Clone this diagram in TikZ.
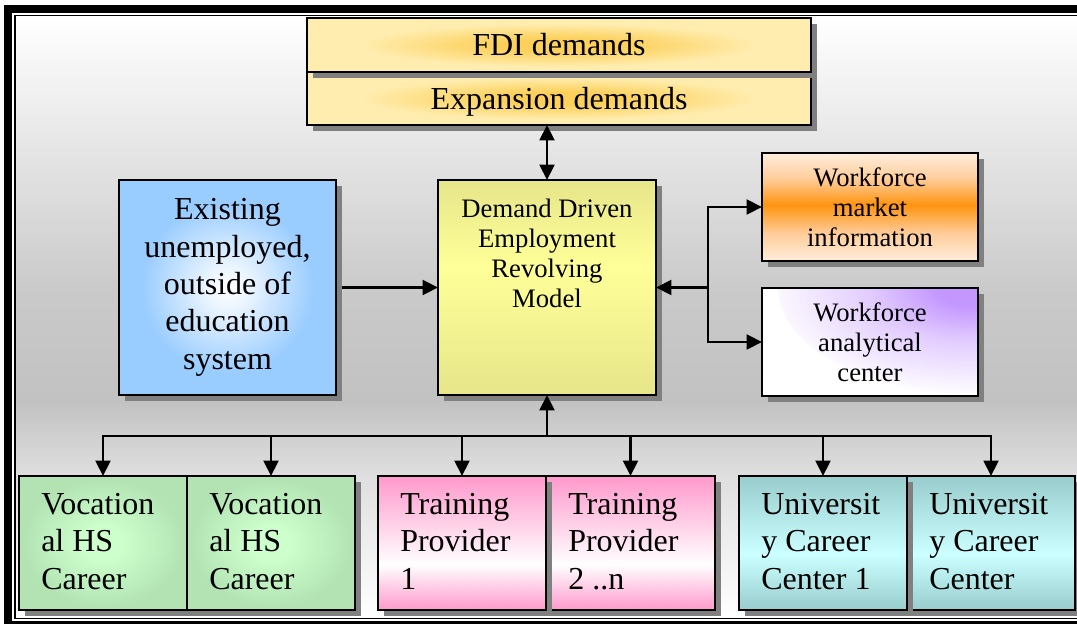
\documentclass[tikz,border=0pt]{standalone}
\usepackage{fontspec}
\setmainfont{Liberation Serif}
\usetikzlibrary{arrows.meta,shadows}
\definecolor{goldD}{HTML}{FCD05A}
\definecolor{goldL}{HTML}{FFEDB0}
\definecolor{blueE}{HTML}{99CCFF}
\definecolor{ddD}{HTML}{E6E68A}
\definecolor{ddL}{HTML}{FFFF99}
\definecolor{orD}{HTML}{FF9410}
\definecolor{orM}{HTML}{FFCC99}
\definecolor{orL}{HTML}{FFEEDD}
\definecolor{purC}{HTML}{C497FF}
\definecolor{grC}{HTML}{CCFFCC}
\definecolor{grE}{HTML}{B3E3B3}
\definecolor{pkD}{HTML}{FF99CC}
\definecolor{tlD}{HTML}{99CCCC}
\definecolor{tlL}{HTML}{CCFFFF}
\pgfdeclareverticalshading{bgsh}{100bp}{color(0bp)=(white); color(25bp)=(white); color(37bp)=(black!13); color(43bp)=(black!24); color(52bp)=(black!21); color(64bp)=(black!10); color(75bp)=(white); color(100bp)=(white)}
\pgfdeclareverticalshading{orsh}{100bp}{color(0bp)=(orL); color(25bp)=(orL); color(38bp)=(orM); color(51bp)=(orD); color(63bp)=(orM); color(75bp)=(orL); color(100bp)=(orL)}
\pgfdeclareverticalshading{ddsh}{100bp}{color(0bp)=(ddD); color(25bp)=(ddD); color(55bp)=(ddL); color(75bp)=(ddD); color(100bp)=(ddD)}
\pgfdeclareverticalshading{pksh}{100bp}{color(0bp)=(pkD); color(25bp)=(pkD); color(42bp)=(white); color(75bp)=(pkD); color(100bp)=(pkD)}
\pgfdeclareverticalshading{tlsh}{100bp}{color(0bp)=(tlD); color(25bp)=(tlD); color(46bp)=(tlL); color(75bp)=(tlD); color(100bp)=(tlD)}
\pgfdeclareradialshading{goldsh}{\pgfpointorigin}{color(0bp)=(goldD); color(6bp)=(goldD); color(20bp)=(goldL); color(100bp)=(goldL)}
\pgfdeclareradialshading{bluesh}{\pgfpointorigin}{color(0bp)=(white); color(5bp)=(white!80!blueE); color(20bp)=(blueE); color(100bp)=(blueE)}
\pgfdeclareradialshading{greensh}{\pgfpointorigin}{color(0bp)=(grC); color(6bp)=(grC); color(24bp)=(grE); color(100bp)=(grE)}
\pgfdeclareradialshading{purpsh}{\pgfpointorigin}{color(0bp)=(purC); color(4bp)=(purC); color(12bp)=(purC!50!white); color(25bp)=(white); color(100bp)=(white)}
\tikzset{
  bx/.style={draw=black, line width=1.9pt, inner sep=0pt, outer sep=0pt,
    drop shadow={shadow xshift=4.5pt, shadow yshift=-4.5pt, fill=black!50, opacity=1}},
  bigf/.style={font=\fontsize{24pt}{28pt}\selectfont},
  medf/.style={font=\fontsize{20pt}{22.5pt}\selectfont},
  bw/.style={minimum width=126pt, minimum height=100.5pt},
  btxt/.style={anchor=north west, inner sep=0pt, align=left, bigf},
  conn/.style={line width=2.2pt},
  tip/.style={-{Triangle[length=11.5pt,width=11pt]}},
  dtip/.style={{Triangle[length=11.5pt,width=11pt]}-{Triangle[length=11.5pt,width=11pt]}}
}
\begin{document}
\begin{tikzpicture}[x=0.75pt,y=-0.75pt]
\useasboundingbox (0,0) rectangle (1077,624);
% frame and background
\fill[black] (4,5) rectangle (1100,640);
\fill[white] (12,13) rectangle (1100,621);
\fill[black] (14,15) rectangle (1100,619);
\shade[shading=bgsh] (16,17) rectangle (1100,617);
% top demand boxes
\node[bx, shade, shading=goldsh, minimum width=378pt, minimum height=39.75pt, text depth=0pt, bigf] (exp) at (559,98.5) {Expansion demands};
\node[bx, shade, shading=goldsh, minimum width=378pt, minimum height=40.5pt, bigf] (fdi) at (559,45) {FDI demands};
% middle row
\node[bx, shade, shading=bluesh, minimum width=162.75pt, minimum height=161.25pt, align=center, bigf] (ex) at (227.5,287.5)
  {Existing\\unemployed,\\outside of\\education\\system};
\node[bx, shade, shading=ddsh, minimum width=163.5pt, minimum height=161.25pt] (dd) at (547,287.5) {};
\node[medf, align=center, inner sep=0pt] (ddt) at (547,253.5) {Demand Driven\\Employment\\Revolving\\Model};
\node[bx, shade, shading=orsh, minimum width=162pt, minimum height=81pt, align=center, medf] (wm) at (870,207)
  {Workforce\\market\\information};
\node[bx, fill=white, minimum width=162pt, minimum height=81pt, align=center, medf,
  path picture={\shade[shading=purpsh] (path picture bounding box.north east) ellipse [x radius=150pt, y radius=80pt];}] (wa) at (870,342)
  {Workforce\\analytical\\center};
% bottom row
\node[bx, shade, shading=greensh, bw] (g1) at (103,543) {};
\node[bx, shade, shading=greensh, bw] (g2) at (271,543) {};
\node[bx, shade, shading=pksh, bw, minimum width=126.75pt] (p2) at (630.5,543) {};
\node[bx, shade, shading=pksh, bw] (p1) at (462,543) {};
\node[bx, shade, shading=tlsh, bw] (t2) at (991,543) {};
\node[bx, shade, shading=tlsh, bw] (t1) at (823,543) {};
\node[btxt] (g1t) at (41,493) {Vocation\\al HS\\Career};
\node[btxt] (g2t) at (209,493) {Vocation\\al HS\\Career};
\node[btxt] (p1t) at (400,493) {Training\\Provider\\1};
\node[btxt] (p2t) at (568,493) {Training\\Provider\\2 ..n};
\node[btxt] (t1t) at (761,493) {Universit\\y Career\\Center 1};
\node[btxt] (t2t) at (929,493) {Universit\\y Career\\Center};
% connectors
\coordinate (c708) at (708,0);
\coordinate (c436) at (0,436);
\coordinate (jr) at (dd.east -| c708);
\coordinate (jb) at (dd.south |- c436);
\draw[conn, dtip] (exp.south -| dd.north) -- (dd.north);
\draw[conn, tip] ([xshift=4.5pt]ex.east) -- (dd.west);
\draw[conn, tip] (jr) -- (dd.east);
\draw[conn, tip] (jr) |- (wm.west);
\draw[conn, tip] (jr) |- (wa.west);
\draw[conn, tip] (jb) -- (dd.south);
\draw[conn, tip] (jb) -| (g1.north);
\draw[conn, tip] (jb) -| (t2.north);
\foreach \n in {g2,p1,p2,t1}
  \draw[conn, tip] (\n.north |- jb) -- (\n.north);
\end{tikzpicture}
\end{document}
